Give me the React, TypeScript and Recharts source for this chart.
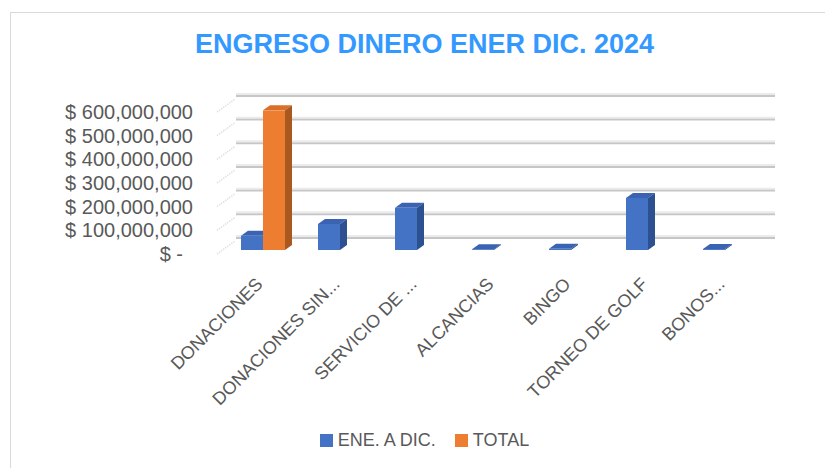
import React from "react";
import { BarChart, Bar, XAxis, YAxis, CartesianGrid, Legend } from "recharts";

const categories = [
  "DONACIONES",
  "DONACIONES SIN...",
  "SERVICIO DE ...",
  "ALCANCIAS",
  "BINGO",
  "TORNEO DE GOLF",
  "BONOS...",
];
const eneADic = [60000000, 110000000, 178000000, 2000000, 5000000, 220000000, 4000000];
const total: (number | null)[] = [590000000, null, null, null, null, null, null];
const yTicks = [0, 100000000, 200000000, 300000000, 400000000, 500000000, 600000000];

const data = categories.map((name, i) => ({ name, ene: eneADic[i], total: total[i] }));

const FACE: Record<string, { top: string; side: string }> = {
  "#4472C4": { top: "#3A63B2", side: "#2C5090" },
  "#ED7D31": { top: "#D9702A", side: "#A95820" },
};

const Bar3D = (props: any) => {
  const { x, y, width, height, fill, payload, dataKey } = props;
  if (!payload || payload[dataKey] == null || width == null) return null;
  const dx = 7;
  const dy = 5;
  const h = Math.max(height, 0.8);
  const yy = y + height - h;
  const c = FACE[fill] || { top: fill, side: fill };
  return (
    <g>
      <path
        d={`M${x},${yy} L${x + dx},${yy - dy} L${x + width + dx},${yy - dy} L${x + width},${yy} Z`}
        fill={c.top}
      />
      <path
        d={`M${x + width},${yy} L${x + width + dx},${yy - dy} L${x + width + dx},${yy + h - dy} L${x + width},${yy + h} Z`}
        fill={c.side}
      />
      <rect x={x} y={yy} width={width} height={h} fill={fill} />
    </g>
  );
};

const fmtMoney = (v: number) =>
  v === 0 ? "$ -" : "$ " + v.toLocaleString("en-US");

const YTick = (props: any) => {
  const { x, y, payload } = props;
  const v = payload.value;
  return (
    <text
      x={v === 0 ? x - 10 : x}
      y={y + 4}
      textAnchor="end"
      dominantBaseline="central"
      fontSize={20}
      fontFamily="'Liberation Sans', Arial, sans-serif"
      fill="#595959"
    >
      {fmtMoney(v)}
    </text>
  );
};

const XTick = (props: any) => {
  const { x, y, payload } = props;
  const tx = x - 3;
  const ty = y + 23;
  return (
    <text
      x={tx}
      y={ty}
      transform={`rotate(-45, ${tx}, ${ty})`}
      textAnchor="end"
      dominantBaseline="central"
      fontSize={18}
      fontFamily="'Liberation Sans', Arial, sans-serif"
      fill="#595959"
    >
      {payload.value}
    </text>
  );
};

const GridLine = (props: any) => {
  const { x1, x2, y1, index } = props;
  const off = 12;
  return (
    <g key={`gl-${index}`}>
      <line
        x1={x1 - 7}
        y1={y1 + 4}
        x2={x1 + 11}
        y2={y1 - 9}
        stroke="#E2E2E2"
        strokeWidth={1.6}
        strokeDasharray="1.5 1"
      />
      <line x1={x1 + off} x2={x2 + off} y1={y1 - off - 1.5} y2={y1 - off - 1.5} stroke="#EBEBEB" strokeWidth={3} />
      <line x1={x1 + off} x2={x2 + off} y1={y1 - off} y2={y1 - off} stroke="#C6C6C6" strokeWidth={1.8} />
    </g>
  );
};

const LegendContent = (props: any) => {
  const items = [
    { label: "ENE. A DIC.", color: "#4472C4" },
    { label: "TOTAL", color: "#ED7D31" },
  ];
  return (
    <div
      style={{
        display: "flex",
        justifyContent: "center",
        alignItems: "center",
        fontFamily: "'Liberation Sans', Arial, sans-serif",
        fontSize: 18,
        color: "#595959",
        lineHeight: "20px",
      }}
    >
      {items.map((it, i) => (
        <div key={it.label} style={{ display: "flex", alignItems: "center", marginLeft: i === 0 ? 0 : 19 }}>
          <span style={{ display: "inline-block", width: 13, height: 13, background: it.color, marginRight: 5 }} />
          <span>{it.label}</span>
        </div>
      ))}
    </div>
  );
};

export default function App() {
  return (
    <div
      style={{
        position: "absolute",
        left: 0,
        top: 0,
        width: 825,
        height: 468,
        background: "#fff",
        overflow: "hidden",
      }}
    >
      <div
        style={{
          position: "absolute",
          left: 10,
          top: 12,
          width: 840,
          height: 480,
          border: "1px solid #D9D9D9",
        }}
      />
      <div
        style={{
          position: "absolute",
          left: 12,
          top: 29,
          width: 825,
          textAlign: "center",
          fontFamily: "'Liberation Sans', Arial, sans-serif",
          fontWeight: "bold",
          fontSize: 27,
          lineHeight: "30px",
          color: "#3399FF",
        }}
      >
        ENGRESO DINERO ENER DIC. 2024
      </div>
      <div style={{ position: "absolute", left: 0, top: 0 }}>
        <BarChart
          width={825}
          height={468}
          data={data}
          margin={{ top: 108, right: 62, bottom: 68, left: 0 }}
          barSize={22}
          barGap={0}
        >
          <CartesianGrid vertical={false} horizontal={GridLine as any} />
          <XAxis
            dataKey="name"
            interval={0}
            tickLine={false}
            axisLine={false}
            height={150}
            tick={<XTick />}
          />
          <YAxis
            width={224}
            domain={[0, 600000000]}
            ticks={yTicks}
            tickLine={false}
            axisLine={false}
            tickSize={0}
            tickMargin={31}
            tick={<YTick />}
          />
          <Legend
            layout="horizontal"
            verticalAlign="middle"
            align="center"
            wrapperStyle={{ top: 430, left: 12, width: 825 }}
            content={<LegendContent />}
          />
          <Bar dataKey="ene" name="ENE. A DIC." fill="#4472C4" isAnimationActive={false} shape={<Bar3D />} />
          <Bar dataKey="total" name="TOTAL" fill="#ED7D31" isAnimationActive={false} shape={<Bar3D />} />
        </BarChart>
      </div>
    </div>
  );
}
